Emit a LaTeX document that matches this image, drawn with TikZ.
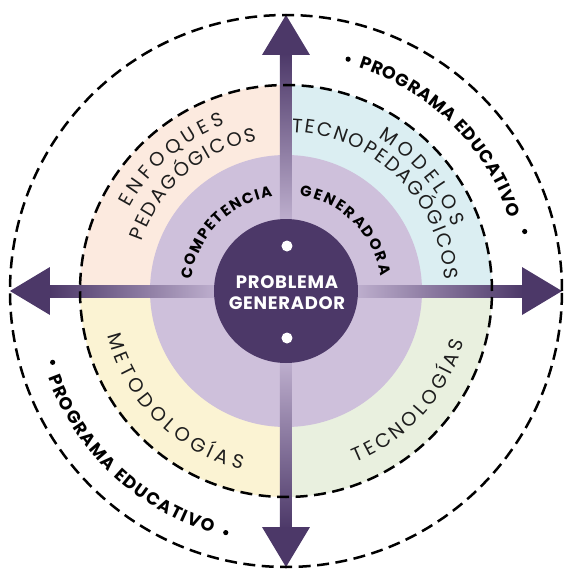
\documentclass[tikz,border=0pt]{standalone}
\usepackage{fontspec}
\setmainfont{Poppins}
\usetikzlibrary{decorations.text}

\definecolor{darkplum}{RGB}{76,56,104}
\definecolor{shaftlight}{RGB}{190,175,206}
\definecolor{lilac}{RGB}{206,192,219}
\definecolor{peach}{RGB}{252,234,223}
\definecolor{iceblue}{RGB}{219,238,242}
\definecolor{cream}{RGB}{251,243,211}
\definecolor{sage}{RGB}{233,240,223}
\definecolor{inkgray}{RGB}{30,30,30}

\newcommand{\ringfont}{\fontsize{19.5}{19.5}\selectfont\color{inkgray}}
\newcommand{\corefont}{\fontsize{15}{15}\selectfont\bfseries\color{black}}
\newcommand{\progfont}{\fontsize{17.5}{17.5}\selectfont\bfseries\color{black}}

\begin{document}
\begin{tikzpicture}[x=1pt,y=1pt,
	dashring/.style={draw=black, line width=2.5pt, dash pattern=on 12pt off 6.5pt},
	arclabel/.style={decorate, decoration={text along path, text={#1}, text align={fit to path}}}]
	\useasboundingbox (-286,-280) rectangle (277,291);
	\fill[white] (-286,-280) rectangle (277,291);

	\fill[peach] (0,0) -- (90:206) arc[start angle=90, end angle=180, radius=206pt] -- cycle;%enfoques
	\fill[iceblue] (0,0) -- (0:206) arc[start angle=0, end angle=90, radius=206pt] -- cycle;%modelos
	\fill[cream] (0,0) -- (180:206) arc[start angle=180, end angle=270, radius=206pt] -- cycle;%metodologias
	\fill[sage] (0,0) -- (270:206) arc[start angle=270, end angle=360, radius=206pt] -- cycle;%tecnologias
	\fill[lilac] (0,0) circle[radius=136pt];%competencia ring

	\shade[left color=shaftlight, right color=darkplum] (70,-6) rectangle (238,6);%east
	\shade[left color=darkplum, right color=shaftlight] (-238,-6) rectangle (-70,6);%west
	\shade[bottom color=shaftlight, top color=darkplum] (-6,70) rectangle (6,238);%north
	\shade[top color=shaftlight, bottom color=darkplum] (-6,-238) rectangle (6,-70);%south
	\foreach \a in {0,90,180,270}
		\fill[darkplum, rotate=\a] (276,0) -- (236,24) -- (236,-24) -- cycle;%heads

	\draw[dashring] (0,0) circle[radius=206pt];
	\draw[dashring] (0,0) circle[radius=276pt];

	\fill[darkplum] (0,0) circle[radius=72pt];%core
	\fill[white] (1,45) circle[radius=5.5pt];
	\fill[white] (1,-47) circle[radius=5.5pt];
	\node[text=white, align=center, font=\fontsize{18}{21}\selectfont\bfseries\addfontfeatures{LetterSpace=4}] (problema) at (1,-2) {PROBLEMA\\GENERADOR};

	% quadrant labels
	\path[arclabel={|\ringfont|ENFOQUES}] (152:177) arc[start angle=152, end angle=110, radius=177pt];
	\path[arclabel={|\ringfont|PEDAGÓGICOS}] (161:153) arc[start angle=161, end angle=101, radius=153pt];
	\path[arclabel={|\ringfont|MODELOS}] (59:179) arc[start angle=59, end angle=21, radius=179pt];
	\path[arclabel={|\ringfont|TECNOPEDAGÓGICOS}] (88:159) arc[start angle=88, end angle=4, radius=159pt];
	\path[arclabel={|\ringfont|METODOLOGÍAS}] (194:184) arc[start angle=194, end angle=256, radius=184pt];
	\path[arclabel={|\ringfont|TECNOLOGÍAS}] (292:185) arc[start angle=292, end angle=344, radius=185pt];

	% ring labels
	\path[arclabel={|\corefont|COMPETENCIA}] (173:95) arc[start angle=173, end angle=98, radius=95pt];
	\path[arclabel={|\corefont|GENERADORA}] (82:96) arc[start angle=82, end angle=9, radius=96pt];
	\path[arclabel={|\progfont|PROGRAMA EDUCATIVO}] (72:235) arc[start angle=72, end angle=18, radius=235pt];
	\path[arclabel={|\progfont|PROGRAMA EDUCATIVO}] (200:253) arc[start angle=200, end angle=253, radius=253pt];
	\foreach \p in {(75:240),(14:246),(197:244),(256:249)}
		\fill \p circle[radius=2.6pt];%bullets
\end{tikzpicture}
\end{document}
